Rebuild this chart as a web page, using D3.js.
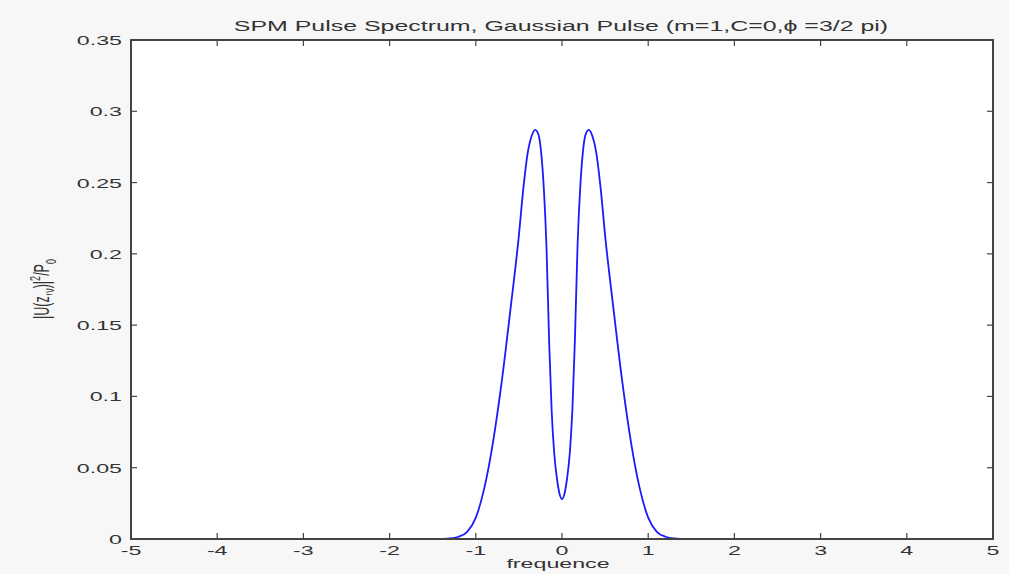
<!DOCTYPE html>
<html>
<head>
<meta charset="utf-8">
<script src="https://cdn.jsdelivr.net/npm/d3@7"></script>
<style>
  html, body { margin: 0; padding: 0; background: #f7f7f7; }
  svg { display: block; }
  text { font-family: "Liberation Sans", Arial, sans-serif; fill: #333; }
</style>
</head>
<body>
<svg id="chart" width="1009" height="574"></svg>
<script>
// Normalised SPM spectrum |U(z,ν)|²/P0 of a Gaussian pulse, sampled along frequency
const frequence = [-4, -1.5, -1.4, -1.3, -1.2, -1.1, -1.0, -0.9, -0.8, -0.7, -0.6, -0.5, -0.45, -0.4, -0.35, -0.31,
  -0.27, -0.24, -0.21, -0.18, -0.15, -0.12, -0.09, -0.06, -0.03, 0,
  0.03, 0.06, 0.09, 0.12, 0.15, 0.18, 0.21, 0.24, 0.27,
  0.31, 0.35, 0.4, 0.45, 0.5, 0.6, 0.7, 0.8, 0.9, 1.0, 1.1, 1.2, 1.3, 1.4, 1.5, 4];
const spectrum = [0, 0, 0.0001, 0.0004, 0.0016, 0.005, 0.015, 0.036, 0.068, 0.11, 0.16, 0.213, 0.245, 0.27, 0.283, 0.287,
  0.283, 0.27, 0.245, 0.205, 0.14, 0.09, 0.06, 0.043, 0.032, 0.028,
  0.032, 0.043, 0.06, 0.09, 0.14, 0.205, 0.245, 0.27, 0.283,
  0.287, 0.283, 0.27, 0.245, 0.213, 0.16, 0.11, 0.068, 0.036, 0.015, 0.005, 0.0016, 0.0004, 0.0001, 0, 0];

const xTicks = [-5, -4, -3, -2, -1, 0, 1, 2, 3, 4, 5];
const yTicks = [0, 0.05, 0.1, 0.15, 0.2, 0.25, 0.3, 0.35];
const yTickLabels = ["0", "0.05", "0.1", "0.15", "0.2", "0.25", "0.3", "0.35"];

const titleText = "SPM Pulse Spectrum, Gaussian Pulse (m=1,C=0,\u03D5 =3/2 pi)";
const xLabel = "frequence";

const svg = d3.select("#chart");
const plotLeft = 131, plotRight = 993, plotTop = 40, plotBottom = 539;
const stretch = 1.72; // wide lettering of the figure

const x = d3.scaleLinear().domain([-5, 5]).range([plotLeft, plotRight]);
const y = d3.scaleLinear().domain([0, 0.35]).range([plotBottom, plotTop]);

// plot area
svg.append("rect").attr("x", plotLeft).attr("y", plotTop)
  .attr("width", plotRight - plotLeft).attr("height", plotBottom - plotTop).attr("fill", "#fff");

function label(g, txt, px, py, anchor, size) {
  return g.append("text")
    .attr("transform", `translate(${px},${py}) scale(${stretch},1)`)
    .attr("text-anchor", anchor)
    .attr("font-size", size)
    .text(txt);
}

// ticks, pointing inward on all four sides
const tickLen = 6;
const frame = svg.append("g").attr("stroke", "#444").attr("stroke-width", 1.2);
xTicks.forEach(v => {
  frame.append("line").attr("x1", x(v)).attr("x2", x(v)).attr("y1", plotBottom).attr("y2", plotBottom - tickLen);
  frame.append("line").attr("x1", x(v)).attr("x2", x(v)).attr("y1", plotTop).attr("y2", plotTop + tickLen);
});
yTicks.forEach(v => {
  frame.append("line").attr("x1", plotLeft).attr("x2", plotLeft + tickLen).attr("y1", y(v)).attr("y2", y(v));
  frame.append("line").attr("x1", plotRight).attr("x2", plotRight - tickLen).attr("y1", y(v)).attr("y2", y(v));
});

// spectrum curve
const line = d3.line()
  .x((d, i) => x(frequence[i]))
  .y(d => y(d))
  .curve(d3.curveMonotoneX);
svg.append("path").datum(spectrum)
  .attr("d", line)
  .attr("fill", "none")
  .attr("stroke", "#1a1aff")
  .attr("stroke-width", 1.8);

// box
svg.append("rect").attr("x", plotLeft).attr("y", plotTop)
  .attr("width", plotRight - plotLeft).attr("height", plotBottom - plotTop)
  .attr("fill", "none").attr("stroke", "#444").attr("stroke-width", 2);

// tick labels
const labels = svg.append("g");
xTicks.forEach(v => label(labels, String(v), x(v), plotBottom + 16, "middle", 13.5));
yTicks.forEach((v, i) => label(labels, yTickLabels[i], plotLeft - 9, y(v) + 5, "end", 13.5));

// title and axis labels
label(svg, titleText, 561, 31, "middle", 14.5);
label(svg, xLabel, 558, 568, "middle", 13.5);

const yl = svg.append("text")
  .attr("transform", `translate(49,289) rotate(-90) scale(1,${stretch})`)
  .attr("text-anchor", "middle")
  .attr("font-size", 12.5);
yl.append("tspan").text("|U(z,");
yl.append("tspan").attr("font-size", 9).attr("dy", 3).text("\u03BD");
yl.append("tspan").attr("dy", -3).text(")|");
yl.append("tspan").attr("font-size", 9).attr("dy", -5).text("2");
yl.append("tspan").attr("dy", 5).text("/P");
yl.append("tspan").attr("font-size", 9).attr("dy", 4).text("0");
</script>
</body>
</html>
